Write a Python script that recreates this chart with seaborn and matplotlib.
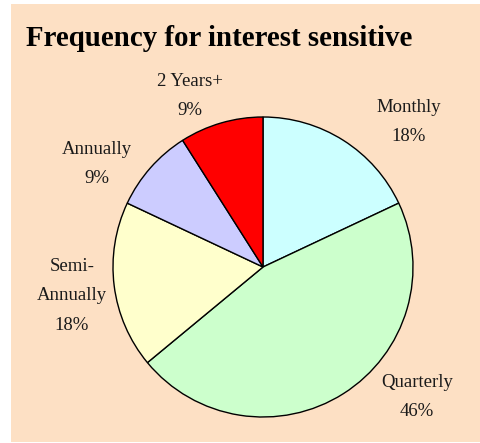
import matplotlib
matplotlib.use("Agg")
import matplotlib.pyplot as plt
import seaborn as sns
from matplotlib.patches import Rectangle

# datos (porcentajes)
categorias = ["Monthly", "Quarterly", "Semi-\nAnnually", "Annually", "2 Years+"]
porcentajes = [18, 46, 18, 9, 9]
colores = ["#CCFFFF", "#CCFFCC", "#FFFFCC", "#CCCCFF", "#FF0000"]
titulo = "Frequency for interest sensitive"

# posiciones de las etiquetas en pixeles (x, y desde arriba)
pos_etiquetas = [(409, 122), (417, 397), (72, 296), (97, 164), (190, 96)]

sns.set_theme(style="white")
plt.rcParams["font.family"] = ["Liberation Serif", "DejaVu Serif"]

W, H = 480, 443
fig = plt.figure(figsize=(W / 100, H / 100), dpi=100)
fig.patch.set_facecolor("white")

# fondo color durazno
fondo = Rectangle((11 / W, 1 / H), (W - 11) / W, (H - 5) / H, transform=fig.transFigure,
                  facecolor="#FDE0C4", edgecolor="none", zorder=-1)
fig.patches.append(fondo)

cx, cy, r = 263, 267, 150
half = 200
ax = fig.add_axes([(cx - half) / W, (H - cy - half) / H, 2 * half / W, 2 * half / H])
ax.set_facecolor("none")
ax.axis("off")
ax.set_zorder(1)

ax.pie(porcentajes, colors=sns.color_palette(colores), startangle=90, counterclock=False,
       radius=1, wedgeprops=dict(edgecolor="black", linewidth=1))
lim = half / r
ax.set_xlim(-lim, lim)
ax.set_ylim(-lim, lim)

for cat, pct, (px, py) in zip(categorias, porcentajes, pos_etiquetas):
    fig.text(px / W, 1 - py / H, f"{cat}\n{pct}%", ha="center", va="center",
             fontsize=13.5, color="#1a1a1a", linespacing=1.95)

fig.text(26 / W, 1 - 38 / H, titulo, ha="left", va="center",
         fontsize=20.8, fontweight="bold", color="black")

fig.savefig("out.png", dpi=100)
